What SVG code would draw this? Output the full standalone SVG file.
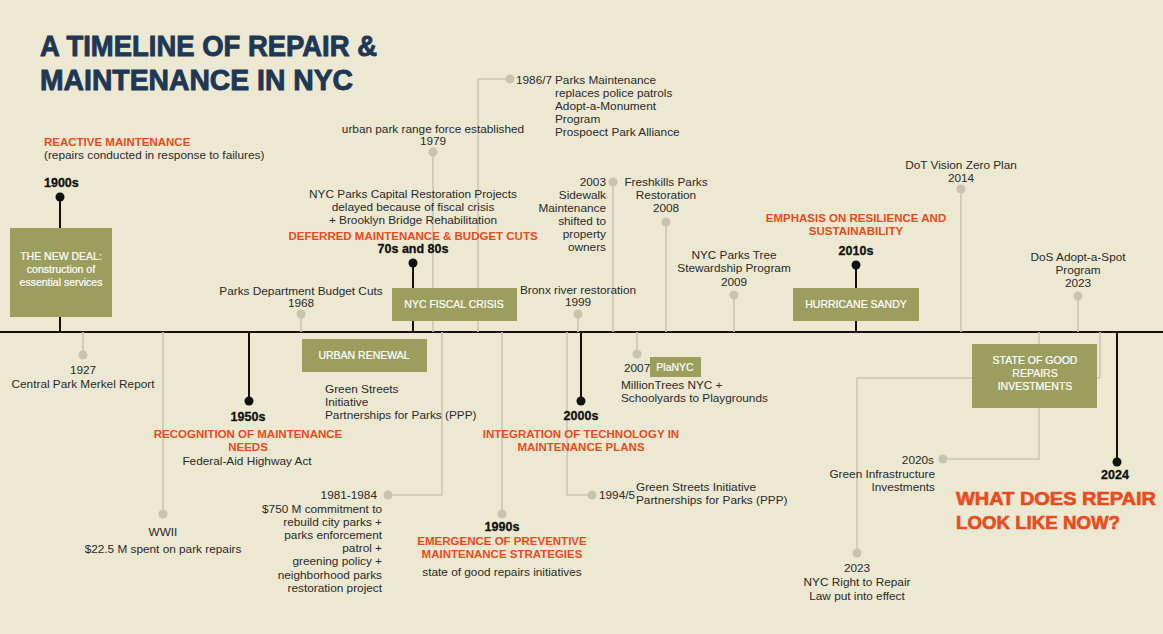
<svg xmlns="http://www.w3.org/2000/svg" width="1163" height="634" viewBox="0 0 1163 634">
<style>
.t{font-family:"Liberation Sans",Arial,sans-serif;font-size:11.8px;fill:#2a2a2a}
.c{text-anchor:middle}
.e{text-anchor:end}
.h{font-family:"Liberation Sans",Arial,sans-serif;font-weight:bold;font-size:11.5px;fill:#E94B1D}
.y{font-family:"Liberation Sans",Arial,sans-serif;font-weight:bold;font-size:12.5px;fill:#111;stroke:#111;stroke-width:0.3}
.bx{font-family:"Liberation Sans",Arial,sans-serif;font-size:10.5px;fill:#fff;text-anchor:middle;stroke:#fff;stroke-width:0.2}
.box{fill:#9C9E5E}
.ln{fill:none;stroke:#C9C5B0;stroke-width:1.5}
.bl{fill:none;stroke:#111;stroke-width:2}
.gd{fill:#C6C3AF}
.bd{fill:#111}
.ti{font-family:"Liberation Sans",Arial,sans-serif;font-weight:bold;font-size:29px;fill:#1E3755;stroke:#1E3755;stroke-width:0.9}
.big{font-family:"Liberation Sans",Arial,sans-serif;font-weight:bold;font-size:18px;fill:#E94B1D;stroke:#E94B1D;stroke-width:0.6}
</style>
<rect width="1163" height="634" fill="#EDE8D1"/>

<g id="title">
<text class="ti" x="40" y="56" textLength="337" lengthAdjust="spacingAndGlyphs">A TIMELINE OF REPAIR &amp;</text>
<text class="ti" x="40" y="90" textLength="313" lengthAdjust="spacingAndGlyphs">MAINTENANCE IN NYC</text>
</g>

<g id="connectors">
<line class="bl" x1="0" y1="332" x2="1163" y2="332"/>
<line class="ln" x1="83" y1="332" x2="83" y2="355"/>
<line class="ln" x1="163" y1="332" x2="163" y2="514"/>
<line class="ln" x1="301" y1="314" x2="301" y2="332"/>
<line class="ln" x1="433" y1="152" x2="433" y2="332"/>
<polyline class="ln" points="478,332 478,79 510,79"/>
<polyline class="ln" points="442,332 442,495 388,495"/>
<line class="ln" x1="502" y1="332" x2="502" y2="514"/>
<polyline class="ln" points="567,332 567,495 592,495"/>
<line class="ln" x1="578" y1="314" x2="578" y2="332"/>
<line class="ln" x1="613" y1="182" x2="613" y2="332"/>
<line class="ln" x1="637" y1="332" x2="637" y2="354"/>
<line class="ln" x1="666" y1="222" x2="666" y2="332"/>
<line class="ln" x1="734" y1="295" x2="734" y2="332"/>
<line class="ln" x1="961" y1="189" x2="961" y2="332"/>
<line class="ln" x1="1078" y1="296" x2="1078" y2="332"/>
<polyline class="ln" points="1039,332 1039,459 943,459"/>
<polyline class="ln" points="1100,332 1100,378 857,378 857,553"/>
<line class="bl" x1="60" y1="197" x2="60" y2="332"/>
<line class="bl" x1="413" y1="263" x2="413" y2="332"/>
<line class="bl" x1="856" y1="265" x2="856" y2="332"/>
<line class="bl" x1="249" y1="332" x2="249" y2="401"/>
<line class="bl" x1="581" y1="332" x2="581" y2="401"/>
<line class="bl" x1="1117" y1="332" x2="1117" y2="462"/>
<circle class="gd" cx="83" cy="355" r="4.5"/>
<circle class="gd" cx="163" cy="514" r="4.5"/>
<circle class="gd" cx="301" cy="314" r="4.5"/>
<circle class="gd" cx="433" cy="152" r="4.5"/>
<circle class="gd" cx="510" cy="79" r="4.5"/>
<circle class="gd" cx="388" cy="495" r="4.5"/>
<circle class="gd" cx="502" cy="514" r="4.5"/>
<circle class="gd" cx="592" cy="495" r="4.5"/>
<circle class="gd" cx="578" cy="314" r="4.5"/>
<circle class="gd" cx="613" cy="182" r="4.5"/>
<circle class="gd" cx="637" cy="354" r="4.5"/>
<circle class="gd" cx="666" cy="222" r="4.5"/>
<circle class="gd" cx="734" cy="295" r="4.5"/>
<circle class="gd" cx="961" cy="189" r="4.5"/>
<circle class="gd" cx="1078" cy="296" r="4.5"/>
<circle class="gd" cx="943" cy="459" r="4.5"/>
<circle class="gd" cx="857" cy="553" r="4.5"/>
<circle class="bd" cx="60" cy="197" r="4.5"/>
<circle class="bd" cx="413" cy="263" r="4.5"/>
<circle class="bd" cx="856" cy="265" r="4.5"/>
<circle class="bd" cx="249" cy="401" r="4.5"/>
<circle class="bd" cx="581" cy="401" r="4.5"/>
<circle class="bd" cx="1117" cy="462" r="4.5"/>
</g>

<g id="n1900s">
<text class="h" x="44" y="146">REACTIVE MAINTENANCE</text>
<text class="t" x="44" y="159">(repairs conducted in response to failures)</text>
<text class="y" x="44" y="187">1900s</text>
<rect class="box" x="10" y="228" width="102" height="89"/>
<text class="bx" x="61" y="260">THE NEW DEAL:</text>
<text class="bx" x="61" y="273">construction of</text>
<text class="bx" x="61" y="286">essential services</text>
</g>

<g id="n1927">
<text class="t c" x="83" y="374">1927</text>
<text class="t c" x="83" y="388">Central Park Merkel Report</text>
</g>

<g id="nwwii">
<text class="t c" x="163" y="536">WWII</text>
<text class="t c" x="163" y="553">$22.5 M spent on park repairs</text>
</g>

<g id="n1950s">
<text class="y c" x="248" y="421">1950s</text>
<text class="h c" x="248" y="438">RECOGNITION OF MAINTENANCE</text>
<text class="h c" x="248" y="451">NEEDS</text>
<text class="t c" x="247" y="465">Federal-Aid Highway Act</text>
</g>

<g id="n1968">
<text class="t c" x="301" y="295">Parks Department Budget Cuts</text>
<text class="t c" x="301" y="307">1968</text>
</g>

<g id="nurban">
<rect class="box" x="302" y="339" width="125" height="33"/>
<text class="bx" x="364" y="359">URBAN RENEWAL</text>
<text class="t" x="325" y="393">Green Streets</text>
<text class="t" x="325" y="406">Initiative</text>
<text class="t" x="325" y="419">Partnerships for Parks (PPP)</text>
</g>

<g id="n1979">
<text class="t c" x="433" y="133">urban park range force established</text>
<text class="t c" x="433" y="145">1979</text>
</g>

<g id="n1986">
<text class="t" x="516" y="84">1986/7</text>
<text class="t" x="555" y="84">Parks Maintenance</text>
<text class="t" x="555" y="97">replaces police patrols</text>
<text class="t" x="555" y="110">Adopt-a-Monument</text>
<text class="t" x="555" y="123">Program</text>
<text class="t" x="555" y="136">Prospoect Park Alliance</text>
</g>

<g id="n70s">
<text class="t c" x="413" y="198">NYC Parks Capital Restoration Projects</text>
<text class="t c" x="413" y="211">delayed because of fiscal crisis</text>
<text class="t c" x="413" y="224">+ Brooklyn  Bridge Rehabilitation</text>
<text class="h c" x="413" y="240">DEFERRED MAINTENANCE &amp; BUDGET CUTS</text>
<text class="y c" x="413" y="253">70s and 80s</text>
<rect class="box" x="392" y="288" width="125" height="33"/>
<text class="bx" x="454" y="308">NYC FISCAL CRISIS</text>
</g>

<g id="n1981">
<text class="t e" x="377" y="499">1981-1984</text>
<text class="t e" x="382" y="513">$750 M commitment to</text>
<text class="t e" x="382" y="526">rebuild city parks +</text>
<text class="t e" x="382" y="539">parks enforcement</text>
<text class="t e" x="382" y="552">patrol +</text>
<text class="t e" x="382" y="565">greening policy +</text>
<text class="t e" x="382" y="579">neighborhood parks</text>
<text class="t e" x="382" y="592">restoration project</text>
</g>

<g id="n1990s">
<text class="y c" x="502" y="531">1990s</text>
<text class="h c" x="502" y="545">EMERGENCE OF PREVENTIVE</text>
<text class="h c" x="502" y="558">MAINTENANCE STRATEGIES</text>
<text class="t c" x="502" y="576">state of good repairs initiatives</text>
</g>

<g id="n1999">
<text class="t c" x="578" y="294">Bronx river restoration</text>
<text class="t c" x="578" y="306">1999</text>
</g>

<g id="n2000s">
<text class="y c" x="581" y="420">2000s</text>
<text class="h c" x="581" y="438">INTEGRATION OF TECHNOLOGY IN</text>
<text class="h c" x="581" y="451">MAINTENANCE PLANS</text>
</g>

<g id="n1994">
<text class="t" x="599" y="499">1994/5</text>
<text class="t" x="636" y="491">Green Streets Initiative</text>
<text class="t" x="636" y="504">Partnerships for Parks (PPP)</text>
</g>

<g id="n2003">
<text class="t e" x="606" y="186">2003</text>
<text class="t e" x="606" y="199">Sidewalk</text>
<text class="t e" x="606" y="212">Maintenance</text>
<text class="t e" x="606" y="225">shifted to</text>
<text class="t e" x="606" y="238">property</text>
<text class="t e" x="606" y="251">owners</text>
</g>

<g id="n2008">
<text class="t c" x="666" y="186">Freshkills Parks</text>
<text class="t c" x="666" y="199">Restoration</text>
<text class="t c" x="666" y="212">2008</text>
</g>

<g id="n2007">
<text class="t" x="624" y="372">2007</text>
<rect class="box" x="650" y="357" width="51" height="20"/>
<text class="bx" x="675" y="371">PlaNYC</text>
<text class="t" x="621" y="389">MillionTrees NYC +</text>
<text class="t" x="621" y="402">Schoolyards to Playgrounds</text>
</g>

<g id="n2009">
<text class="t c" x="734" y="259">NYC Parks Tree</text>
<text class="t c" x="734" y="272">Stewardship Program</text>
<text class="t c" x="734" y="286">2009</text>
</g>

<g id="n2010s">
<text class="h c" x="856" y="222">EMPHASIS ON RESILIENCE AND</text>
<text class="h c" x="856" y="235">SUSTAINABILITY</text>
<text class="y c" x="856" y="255">2010s</text>
<rect class="box" x="793" y="288" width="126" height="33"/>
<text class="bx" x="856" y="308">HURRICANE SANDY</text>
</g>

<g id="n2014">
<text class="t c" x="961" y="169">DoT Vision Zero Plan</text>
<text class="t c" x="961" y="182">2014</text>
</g>

<g id="n2023dos">
<text class="t c" x="1078" y="261">DoS Adopt-a-Spot</text>
<text class="t c" x="1078" y="274">Program</text>
<text class="t c" x="1078" y="287">2023</text>
</g>

<g id="nsogr">
<rect class="box" x="972" y="344" width="125" height="64"/>
<text class="bx" x="1035" y="364">STATE OF GOOD</text>
<text class="bx" x="1035" y="377">REPAIRS</text>
<text class="bx" x="1035" y="390">INVESTMENTS</text>
</g>

<g id="n2020s">
<text class="t e" x="934" y="464">2020s</text>
<text class="t e" x="935" y="478">Green Infrastructure</text>
<text class="t e" x="935" y="491">Investments</text>
</g>

<g id="n2023rtr">
<text class="t c" x="857" y="572">2023</text>
<text class="t c" x="857" y="586">NYC Right to Repair</text>
<text class="t c" x="857" y="600">Law put into effect</text>
</g>

<g id="n2024">
<text class="y c" x="1115" y="479">2024</text>
<text class="big" x="956" y="505" textLength="200" lengthAdjust="spacingAndGlyphs">WHAT DOES REPAIR</text>
<text class="big" x="956" y="529" textLength="164" lengthAdjust="spacingAndGlyphs">LOOK LIKE NOW?</text>
</g>
</svg>
